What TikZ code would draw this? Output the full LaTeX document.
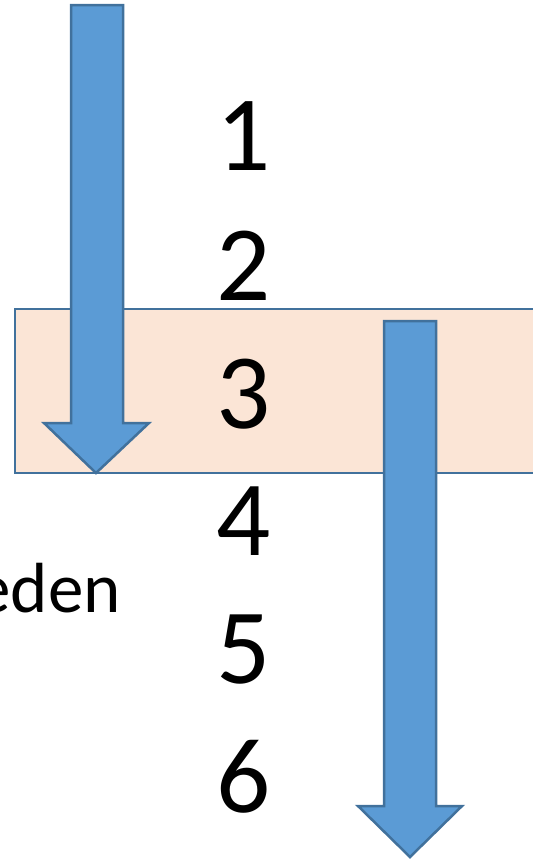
\documentclass[tikz,border=0pt]{standalone}
\usepackage{fontspec}
\setmainfont{Carlito}
\definecolor{arrowfill}{HTML}{5B9BD5}
\definecolor{arrowline}{HTML}{41719C}
\definecolor{boxfill}{HTML}{FBE5D6}
\begin{document}
\begin{tikzpicture}[x=1pt,y=-1pt,
  blockarrow/.style={fill=arrowfill,draw=arrowline,line width=2.5pt,line join=miter},
  bandbox/.style={fill=boxfill,draw=arrowline,line width=2.5pt},
  numlabel/.style={anchor=base,inner sep=0pt,font=\fontsize{107}{107}\selectfont},
  sidelabel/.style={anchor=base east,inner sep=0pt,font=\fontsize{71}{71}\selectfont}]
\useasboundingbox (0,0) rectangle (533,860);
\clip (0,0) rectangle (533,860);
% band
\draw[bandbox] (15,309) rectangle (560,473);
% left arrow
\draw[blockarrow] (71,5) -- (123,5) -- (123,423) -- (149,423) -- (96,473) -- (44,423) -- (71,423) -- cycle;
% right arrow
\draw[blockarrow] (384,321) -- (436,321) -- (436,806) -- (462,806) -- (410,857) -- (358,806) -- (384,806) -- cycle;
% numbers
\node[numlabel] (n1) at (244,170) {1};
\node[numlabel] (n2) at (244,300) {2};
\node[numlabel] (n3) at (244,428) {3};
\node[numlabel] (n4) at (244,555) {4};
\node[numlabel] (n5) at (244,683) {5};
\node[numlabel] (n6) at (244,812) {6};
\node[sidelabel] (side) at (121,612) {eden};
\end{tikzpicture}
\end{document}
